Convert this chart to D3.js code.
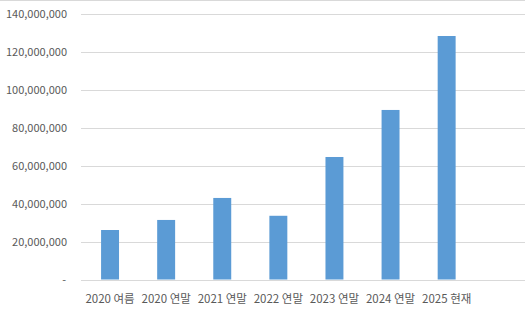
<!DOCTYPE html>
<html>
<head>
<meta charset="utf-8">
<script src="https://cdn.jsdelivr.net/npm/d3@7"></script>
<style>
  html, body { margin: 0; padding: 0; background: #fff; }
  svg { display: block; }
  text { font-family: "Noto Sans CJK KR", "Noto Sans", sans-serif; fill: #595959; }
</style>
</head>
<body>
<svg id="chart" width="525" height="314"></svg>
<script>
const categories = ["2020 여름", "2020 연말", "2021 연말", "2022 연말", "2023 연말", "2024 연말", "2025 현재"];
const values = [26100000, 31400000, 43000000, 33600000, 64600000, 89400000, 128400000];
const yTicks = [0, 20000000, 40000000, 60000000, 80000000, 100000000, 120000000, 140000000];

const W = 525, H = 314;
const svg = d3.select("#chart");

// top border of chart area
svg.append("line").attr("x1", 0).attr("x2", W).attr("y1", 0.5).attr("y2", 0.5)
  .attr("stroke", "#d9d9d9").attr("stroke-width", 1);

const plotLeft = 81, plotRight = W;
const step = 56.1;
const y = d3.scaleLinear().domain([0, 140000000]).range([279.5, 14]);
const x = d3.scaleBand().domain(categories)
  .range([82, 82 + step * categories.length])
  .paddingInner(0.68).paddingOuter(0.34);

const fmt = d3.format(",");

// gridlines
svg.append("g").selectAll("line").data(yTicks).join("line")
  .attr("x1", plotLeft).attr("x2", plotRight)
  .attr("y1", d => Math.round(y(d)) + 0.5).attr("y2", d => Math.round(y(d)) + 0.5)
  .attr("stroke", "#d9d9d9").attr("stroke-width", 1);

// y axis labels
const yAxis = d3.axisLeft(y).tickValues(yTicks).tickSize(0).tickPadding(0)
  .tickFormat(d => d === 0 ? "-" : fmt(d));
const gy = svg.append("g").attr("transform", "translate(67,0)").call(yAxis);
gy.select(".domain").remove();
gy.selectAll("text").attr("font-size", "11px").attr("fill", "#595959")
  .style("font-family", '"Noto Sans CJK KR", "Noto Sans", sans-serif')
  .attr("x", d => d === 0 ? -1 : 0);

// bars
svg.append("g").selectAll("rect").data(values).join("rect")
  .attr("x", (d, i) => x(categories[i]))
  .attr("width", x.bandwidth())
  .attr("y", d => y(d))
  .attr("height", d => y(0) - y(d))
  .attr("fill", "#5b9bd5");

// x axis labels
const xAxis = d3.axisBottom(x).tickSize(0).tickPadding(0);
const gx = svg.append("g").attr("transform", "translate(0,294.5)").call(xAxis);
gx.select(".domain").remove();
gx.selectAll("text").attr("font-size", "11.5px").attr("fill", "#595959")
  .style("font-family", '"Noto Sans CJK KR", "Noto Sans", sans-serif')
  .attr("dy", "0.71em");
</script>
</body>
</html>
